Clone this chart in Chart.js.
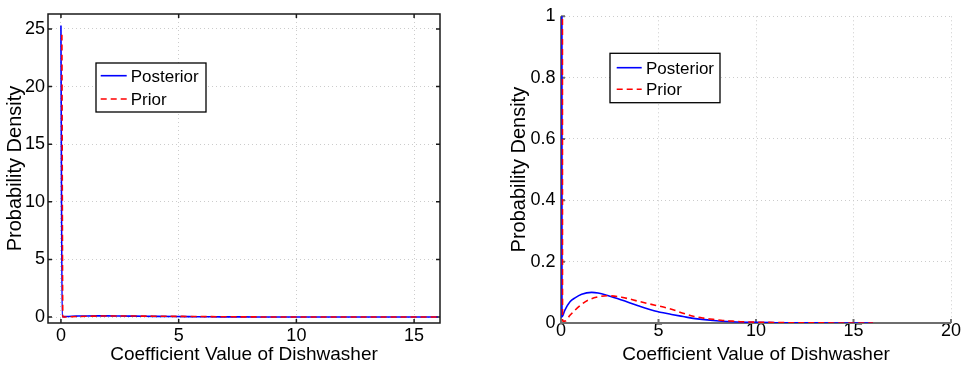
<!DOCTYPE html>
<html>
<head>
<meta charset="utf-8">
<script src="https://cdn.jsdelivr.net/npm/chart.js@4.4.1/dist/chart.umd.min.js"></script>
<style>
  html, body { margin: 0; padding: 0; background: #fff; }
  body { width: 963px; height: 366px; position: relative; overflow: hidden; }
  canvas { position: absolute; top: 0; }
  #left { left: 0; }
  #right { left: 480px; }
</style>
</head>
<body>
<canvas id="left" width="480" height="366"></canvas>
<canvas id="right" width="483" height="366"></canvas>
<script>
// values
const postX = [0, 0.05, 0.2, 0.46, 0.72, 1.06, 1.57, 1.9, 2.43, 3.11, 3.96, 4.82, 5.67, 6.26, 6.78, 7.8, 8.8, 9.85, 11, 12, 13, 14, 15, 16];
const postY = [25.3, 0.02, 0.042, 0.069, 0.082, 0.094, 0.1, 0.098, 0.089, 0.075, 0.056, 0.039, 0.028, 0.021, 0.015, 0.008, 0.004, 0.002, 0.001, 0.0005, 0.0003, 0.0002, 0.0001, 0.0001];
const priorX = [0.04, 0.08, 0.2, 0.46, 0.72, 1.06, 1.4, 1.9, 2.35, 3.11, 3.96, 4.82, 5.5, 6.26, 6.78, 7.3, 7.8, 8.3, 8.8, 9.3, 9.85, 11, 12, 13, 14, 15, 16];
const priorY = [24.5, 0.006, 0.006, 0.025, 0.042, 0.061, 0.075, 0.085, 0.089, 0.084, 0.071, 0.058, 0.048, 0.032, 0.022, 0.016, 0.012, 0.008, 0.006, 0.004, 0.003, 0.0015, 0.0008, 0.0004, 0.0002, 0.0001, 0.0001];

const leftXTicks = [0, 5, 10, 15];
const leftYTicks = [0, 5, 10, 15, 20, 25];
const rightXTicks = [0, 5, 10, 15, 20];
const rightYTicks = [0, 0.2, 0.4, 0.6, 0.8, 1];

const xTitle = 'Coefficient Value of Dishwasher';
const yTitle = 'Probability Density';
const fontFamily = '"Liberation Sans", Arial, Helvetica, sans-serif';

Chart.defaults.font.family = fontFamily;
Chart.defaults.color = '#000';

function makeDatasets() {
    return [
        {
            label: 'Prior',
            data: priorX.map((x, i) => ({ x: x, y: priorY[i] })),
            borderColor: '#ff0000',
            borderWidth: 1.6,
            borderDash: [6, 4],
            pointRadius: 0,
            cubicInterpolationMode: 'monotone',
            fill: false
        },
        {
            label: 'Posterior',
            data: postX.map((x, i) => ({ x: x, y: postY[i] })),
            borderColor: '#0000ff',
            borderWidth: 1.6,
            pointRadius: 0,
            cubicInterpolationMode: 'monotone',
            fill: false
        }
    ];
}

// axis lines, inner tick marks (MATLAB style) and the boxed legend
const frame = {
    id: 'frame',
    beforeDatasetsDraw(chart, args, opts) {
        const { ctx, chartArea: a, scales: { x, y } } = chart;
        ctx.save();
        ctx.strokeStyle = opts.color;
        ctx.lineWidth = opts.width;
        ctx.beginPath();
        if (opts.box) {
            ctx.rect(a.left, a.top, a.right - a.left, a.bottom - a.top);
        } else {
            ctx.moveTo(a.left, a.top);
            ctx.lineTo(a.left, a.bottom);
            ctx.lineTo(a.right, a.bottom);
        }
        const tl = 4;
        x.ticks.forEach(t => {
            const px = x.getPixelForValue(t.value);
            ctx.moveTo(px, a.bottom);
            ctx.lineTo(px, a.bottom - tl);
            if (opts.box) {
                ctx.moveTo(px, a.top);
                ctx.lineTo(px, a.top + tl);
            }
        });
        y.ticks.forEach(t => {
            const py = y.getPixelForValue(t.value);
            ctx.moveTo(a.left, py);
            ctx.lineTo(a.left + tl, py);
            if (opts.box) {
                ctx.moveTo(a.right, py);
                ctx.lineTo(a.right - tl, py);
            }
        });
        ctx.stroke();
        ctx.restore();
    },
    afterDraw(chart, args, opts) {
        const L = opts.legend;
        if (!L) return;
        const ctx = chart.ctx;
        ctx.save();
        ctx.fillStyle = '#fff';
        ctx.fillRect(L.x, L.y, L.w, L.h);
        ctx.strokeStyle = '#000';
        ctx.lineWidth = 1.3;
        ctx.strokeRect(L.x, L.y, L.w, L.h);
        const order = ['Posterior', 'Prior'];
        order.forEach((name, i) => {
            const ds = chart.data.datasets.find(d => d.label === name);
            const ry = L.rows[i];
            ctx.strokeStyle = ds.borderColor;
            ctx.lineWidth = ds.borderWidth;
            ctx.setLineDash(ds.borderDash || []);
            ctx.beginPath();
            ctx.moveTo(L.x + L.s0, ry);
            ctx.lineTo(L.x + L.s1, ry);
            ctx.stroke();
            ctx.setLineDash([]);
            ctx.fillStyle = '#000';
            ctx.font = '17px ' + fontFamily;
            ctx.textBaseline = 'middle';
            ctx.textAlign = 'left';
            ctx.fillText(name, L.x + L.tx, ry + 1.5);
        });
        ctx.restore();
    }
};

function axisOptions(o) {
    return {
        type: 'linear',
        min: o.min,
        max: o.max,
        afterFit: o.fit,
        afterBuildTicks: s => { s.ticks = o.ticks.map(v => ({ value: v })); },
        grid: { color: '#cccccc', lineWidth: 1, drawTicks: false },
        border: { display: false, dash: [1, 3] },
        ticks: {
            color: '#000', font: { size: 18 }, padding: o.pad, maxRotation: 0, autoSkip: false,
            callback: v => String(v)
        },
        title: { display: true, text: o.title, color: '#000', font: { size: o.titleSize }, padding: o.titlePad }
    };
}

new Chart(document.getElementById('left'), {
    type: 'line',
    data: { datasets: makeDatasets() },
    plugins: [frame],
    options: {
        responsive: false,
        animation: false,
        devicePixelRatio: 1,
        layout: { padding: { top: 14, right: 40, left: 0, bottom: 0 } },
        scales: {
            x: axisOptions({ min: -0.55, max: 16.1, ticks: leftXTicks, pad: 2.2, title: xTitle, titleSize: 19,
                fit: s => { s.height = 43; }, titlePad: { top: 0, bottom: 0 } }),
            y: axisOptions({ min: -0.52, max: 26.3, ticks: leftYTicks, pad: 3, title: yTitle, titleSize: 20,
                fit: s => { s.width = 48; }, titlePad: { top: 3.6, bottom: 0 } })
        },
        plugins: {
            legend: { display: false },
            tooltip: { enabled: false },
            frame: {
                box: true, color: '#1a1a1a', width: 1.5,
                legend: { x: 96, y: 63, w: 110, h: 49, s0: 4.7, s1: 30.7, tx: 34.7, rows: [75.7, 99] }
            }
        }
    }
});

new Chart(document.getElementById('right'), {
    type: 'line',
    data: { datasets: makeDatasets() },
    plugins: [frame],
    options: {
        responsive: false,
        animation: false,
        devicePixelRatio: 1,
        layout: { padding: { top: 15, right: 12, left: 0, bottom: 0 } },
        scales: {
            x: axisOptions({ min: 0, max: 20, ticks: rightXTicks, pad: -2.5, title: xTitle, titleSize: 19,
                fit: s => { s.height = 43; }, titlePad: { top: 0, bottom: 0 } }),
            y: axisOptions({ min: 0, max: 1, ticks: rightYTicks, pad: 5.5, title: yTitle, titleSize: 20,
                fit: s => { s.width = 81; }, titlePad: { top: 27.2, bottom: 0 } })
        },
        plugins: {
            legend: { display: false },
            tooltip: { enabled: false },
            frame: {
                box: false, color: '#6e6e6e', width: 2,
                legend: { x: 130, y: 53.3, w: 110, h: 49.4, s0: 6.7, s1: 31.7, tx: 36, rows: [67.7, 89.3] }
            }
        }
    }
});
</script>
</body>
</html>
